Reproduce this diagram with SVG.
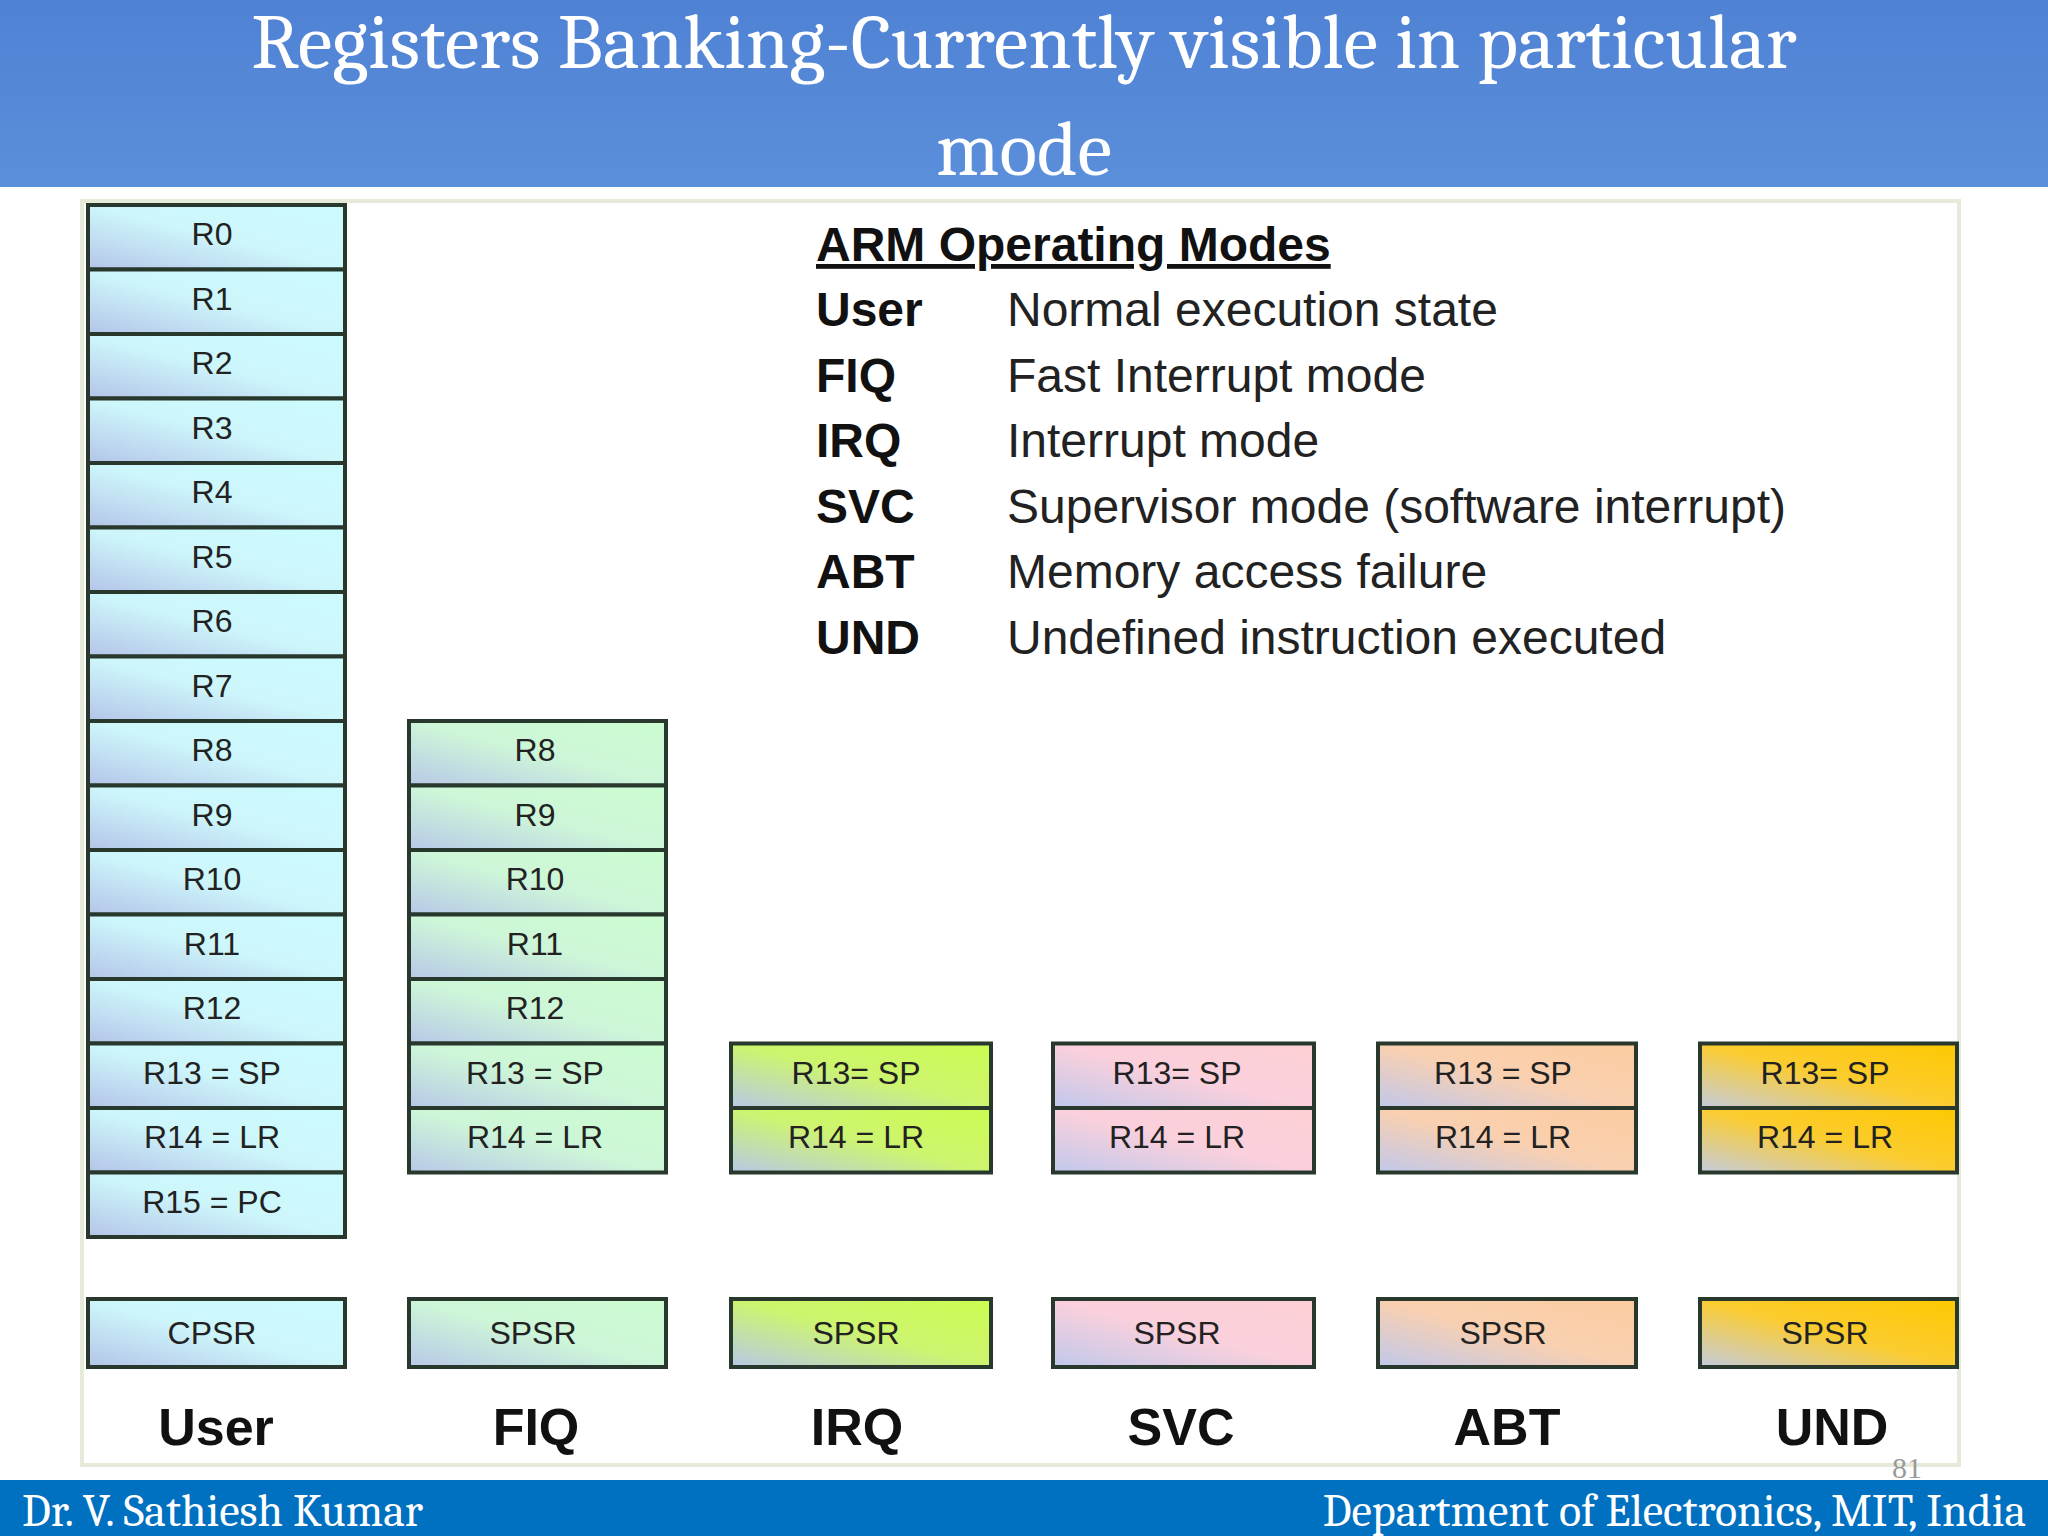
<svg xmlns="http://www.w3.org/2000/svg" width="2048" height="1536" viewBox="0 0 2048 1536">
<defs>
<linearGradient id="gU" x1="0" y1="1" x2="1" y2="0"><stop offset="0" stop-color="#b4c4e8"/><stop offset="0.5" stop-color="#cdf6fb"/><stop offset="1" stop-color="#ccfbfd"/></linearGradient>
<linearGradient id="gF" x1="0" y1="1" x2="1" y2="0"><stop offset="0" stop-color="#b8c8e8"/><stop offset="0.5" stop-color="#cdf6d8"/><stop offset="1" stop-color="#ccfcd0"/></linearGradient>
<linearGradient id="gI" x1="0" y1="1" x2="1" y2="0"><stop offset="0" stop-color="#b8c8e8"/><stop offset="0.5" stop-color="#cdf470"/><stop offset="1" stop-color="#ccfc50"/></linearGradient>
<linearGradient id="gS" x1="0" y1="1" x2="1" y2="0"><stop offset="0" stop-color="#c0c8ec"/><stop offset="0.5" stop-color="#fad0dc"/><stop offset="1" stop-color="#fdd0d4"/></linearGradient>
<linearGradient id="gA" x1="0" y1="1" x2="1" y2="0"><stop offset="0" stop-color="#c0c8ec"/><stop offset="0.5" stop-color="#f9d0b0"/><stop offset="1" stop-color="#fccca0"/></linearGradient>
<linearGradient id="gD" x1="0" y1="1" x2="1" y2="0"><stop offset="0" stop-color="#c4cce0"/><stop offset="0.5" stop-color="#fbcc30"/><stop offset="1" stop-color="#fec800"/></linearGradient>
<linearGradient id="gT" x1="0" y1="0" x2="0" y2="1"><stop offset="0" stop-color="#4f82d4"/><stop offset="1" stop-color="#5b8fda"/></linearGradient>
</defs>
<style>
.r{stroke:#28382c;stroke-width:4}
.t{font-family:"Liberation Sans",Arial,sans-serif;font-size:32px;fill:#222;text-anchor:middle}
.m{font-family:"Liberation Sans",Arial,sans-serif;font-size:52px;font-weight:bold;fill:#111;text-anchor:middle}
.k{font-family:"Liberation Sans",Arial,sans-serif;font-size:48px;font-weight:bold;fill:#111}
.d{font-family:"Liberation Sans",Arial,sans-serif;font-size:48px;fill:#222}
</style>
<rect width="2048" height="1536" fill="#fff"/>
<rect x="0" y="0" width="2048" height="187" fill="url(#gT)"/>
<text x="1024" y="68" font-family="Cambria,'Liberation Serif',serif" font-size="78" fill="#fff" text-anchor="middle">Registers Banking-Currently visible in particular</text>
<text x="1024" y="175" font-family="Cambria,'Liberation Serif',serif" font-size="78" fill="#fff" text-anchor="middle">mode</text>
<rect x="82" y="201" width="1877" height="1264" fill="#fff" stroke="#e6ead8" stroke-width="4"/>
<g id="legend">
<text x="816" y="261" class="k" text-decoration="underline">ARM Operating Modes</text>
<text x="816" y="326" class="k">User</text><text x="1007" y="326" class="d">Normal execution state</text>
<text x="816" y="392" class="k">FIQ</text><text x="1007" y="392" class="d">Fast Interrupt mode</text>
<text x="816" y="457" class="k">IRQ</text><text x="1007" y="457" class="d">Interrupt mode</text>
<text x="816" y="523" class="k">SVC</text><text x="1007" y="523" class="d">Supervisor mode (software interrupt)</text>
<text x="816" y="588" class="k">ABT</text><text x="1007" y="588" class="d">Memory access failure</text>
<text x="816" y="654" class="k">UND</text><text x="1007" y="654" class="d">Undefined instruction executed</text>
</g>
<g id="user">
<g fill="url(#gU)" class="r">
<rect x="88" y="205" width="257" height="64.5" class="r"/><rect x="88" y="269.5" width="257" height="64.5" class="r"/><rect x="88" y="334" width="257" height="64.5" class="r"/><rect x="88" y="398.5" width="257" height="64.5" class="r"/><rect x="88" y="463" width="257" height="64.5" class="r"/><rect x="88" y="527.5" width="257" height="64.5" class="r"/><rect x="88" y="592" width="257" height="64.5" class="r"/><rect x="88" y="656.5" width="257" height="64.5" class="r"/><rect x="88" y="721" width="257" height="64.5" class="r"/><rect x="88" y="785.5" width="257" height="64.5" class="r"/><rect x="88" y="850" width="257" height="64.5" class="r"/><rect x="88" y="914.5" width="257" height="64.5" class="r"/><rect x="88" y="979" width="257" height="64.5" class="r"/><rect x="88" y="1043.5" width="257" height="64.5" class="r"/><rect x="88" y="1108" width="257" height="64.5" class="r"/><rect x="88" y="1172.5" width="257" height="64.5" class="r"/>
<rect x="88" y="1299" width="257" height="68" class="r"/>
</g>
<text x="212" y="245" class="t">R0</text><text x="212" y="310" class="t">R1</text><text x="212" y="374" class="t">R2</text><text x="212" y="439" class="t">R3</text><text x="212" y="503" class="t">R4</text><text x="212" y="568" class="t">R5</text><text x="212" y="632" class="t">R6</text><text x="212" y="697" class="t">R7</text><text x="212" y="761" class="t">R8</text><text x="212" y="826" class="t">R9</text><text x="212" y="890" class="t">R10</text><text x="212" y="955" class="t">R11</text><text x="212" y="1019" class="t">R12</text><text x="212" y="1084" class="t">R13 = SP</text><text x="212" y="1148" class="t">R14 = LR</text><text x="212" y="1213" class="t">R15 = PC</text>
<text x="212" y="1344" class="t">CPSR</text>
<text x="216" y="1445" class="m">User</text>
</g>
<g id="fiq">
<g fill="url(#gF)">
<rect x="409" y="721" width="257" height="64.5" class="r"/><rect x="409" y="785.5" width="257" height="64.5" class="r"/><rect x="409" y="850" width="257" height="64.5" class="r"/><rect x="409" y="914.5" width="257" height="64.5" class="r"/><rect x="409" y="979" width="257" height="64.5" class="r"/><rect x="409" y="1043.5" width="257" height="64.5" class="r"/><rect x="409" y="1108" width="257" height="64.5" class="r"/>
<rect x="409" y="1299" width="257" height="68" class="r"/>
</g>
<text x="535" y="761" class="t">R8</text><text x="535" y="826" class="t">R9</text><text x="535" y="890" class="t">R10</text><text x="535" y="955" class="t">R11</text><text x="535" y="1019" class="t">R12</text><text x="535" y="1084" class="t">R13 = SP</text><text x="535" y="1148" class="t">R14 = LR</text>
<text x="533" y="1344" class="t">SPSR</text>
<text x="536" y="1445" class="m">FIQ</text>
</g>
<g id="irq">
<g fill="url(#gI)"><rect x="731" y="1043.5" width="260" height="64.5" class="r"/><rect x="731" y="1108" width="260" height="64.5" class="r"/><rect x="731" y="1299" width="260" height="68" class="r"/></g>
<text x="856" y="1084" class="t">R13= SP</text><text x="856" y="1148" class="t">R14 = LR</text><text x="856" y="1344" class="t">SPSR</text>
<text x="857" y="1445" class="m">IRQ</text>
</g>
<g id="svc">
<g fill="url(#gS)"><rect x="1053" y="1043.5" width="261" height="64.5" class="r"/><rect x="1053" y="1108" width="261" height="64.5" class="r"/><rect x="1053" y="1299" width="261" height="68" class="r"/></g>
<text x="1177" y="1084" class="t">R13= SP</text><text x="1177" y="1148" class="t">R14 = LR</text><text x="1177" y="1344" class="t">SPSR</text>
<text x="1181" y="1445" class="m">SVC</text>
</g>
<g id="abt">
<g fill="url(#gA)"><rect x="1378" y="1043.5" width="258" height="64.5" class="r"/><rect x="1378" y="1108" width="258" height="64.5" class="r"/><rect x="1378" y="1299" width="258" height="68" class="r"/></g>
<text x="1503" y="1084" class="t">R13 = SP</text><text x="1503" y="1148" class="t">R14 = LR</text><text x="1503" y="1344" class="t">SPSR</text>
<text x="1507" y="1445" class="m">ABT</text>
</g>
<g id="und">
<g fill="url(#gD)"><rect x="1700" y="1043.5" width="257" height="64.5" class="r"/><rect x="1700" y="1108" width="257" height="64.5" class="r"/><rect x="1700" y="1299" width="257" height="68" class="r"/></g>
<text x="1825" y="1084" class="t">R13= SP</text><text x="1825" y="1148" class="t">R14 = LR</text><text x="1825" y="1344" class="t">SPSR</text>
<text x="1832" y="1445" class="m">UND</text>
</g>
<g id="connectors"/>
<text x="1907" y="1478" font-family="'Liberation Serif',serif" font-size="30" fill="#999" text-anchor="middle">81</text>
<rect x="0" y="1480" width="2048" height="56" fill="#0070c0"/>
<text x="22" y="1526" font-family="Cambria,'Liberation Serif',serif" font-size="46" fill="#fff">Dr. V. Sathiesh Kumar</text>
<text x="2026" y="1526" font-family="Cambria,'Liberation Serif',serif" font-size="46" fill="#fff" text-anchor="end">Department of Electronics, MIT, India</text>
</svg>
